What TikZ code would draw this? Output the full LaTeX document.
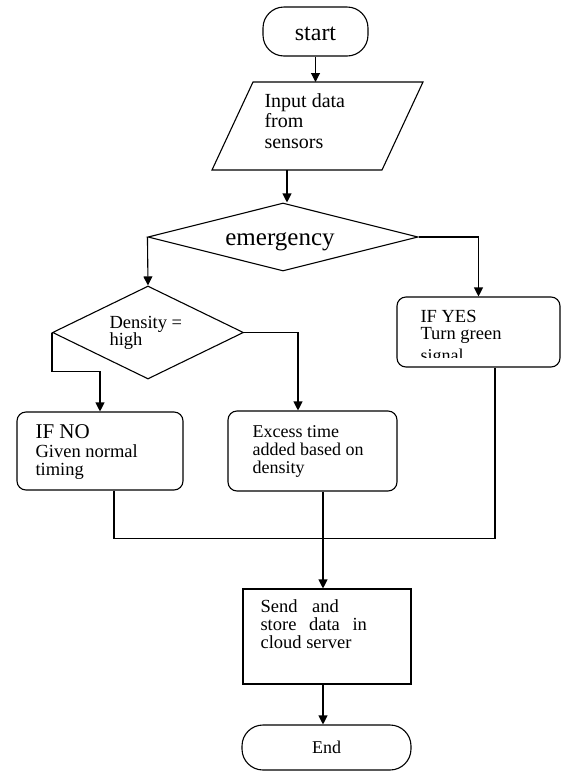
\documentclass[tikz,border=0pt]{standalone}
\usepackage{fontspec}
\setmainfont{Liberation Serif}
\usetikzlibrary{shapes.geometric,arrows.meta}
\begin{document}
\begin{tikzpicture}[x=1pt,y=-1pt, line width=1.1pt,
  arr/.style={-{Triangle[length=9pt,width=9pt]}},
  box/.style={draw, inner sep=0pt},
  rbox/.style={box, rounded corners=9pt},
  term/.style={box, rounded corners=21pt},
  txt/.style={inner sep=0pt, anchor=base west, align=left, font=\fontsize{18}{19}\selectfont},
]
\useasboundingbox (0,0) rectangle (563,772);
% shapes
\node[term, minimum width=105pt, minimum height=49pt] (start) at (315.5,31.5) {};
\coordinate (p1) at (212,170);
\coordinate (p2) at (382,170);
\coordinate (p3) at (423,82);
\coordinate (p4) at (253,82);
\draw (p1) -- (p2) -- (p3) -- (p4) -- cycle;
\coordinate (inTop) at (315.5,82);
\coordinate (inBot) at (287,170);
\node[box, diamond, minimum width=270pt, minimum height=68pt] (em) at (283,237) {};
\node[box, diamond, minimum width=191pt, minimum height=93pt] (den) at (148,332.5) {};
\node[rbox, minimum width=163pt, minimum height=70pt] (yes) at (478.5,332) {};
\node[rbox, minimum width=166pt, minimum height=78pt] (no) at (100,451) {};
\node[rbox, minimum width=169pt, minimum height=80pt] (exc) at (312.5,451) {};
\node[box, minimum width=168pt, minimum height=95pt] (send) at (327,636.5) {};
\node[term, minimum width=169pt, minimum height=45pt] (end) at (326.5,747.5) {};
% texts (base anchor = baseline of the last line)
\node[txt, anchor=base, font=\fontsize{24}{26}\selectfont] (tstart) at (315.5,40) {start};
\node[txt, font=\fontsize{20}{20.5}\selectfont] (tin) at (264,148) {Input data\\from\\sensors};
\node[txt, anchor=base, font=\fontsize{25}{26}\selectfont] (tem) at (280,245) {emergency};
\node[txt, font=\fontsize{18.5}{17}\selectfont] (tden) at (109,345) {Density =\\high};
\node[txt, font=\fontsize{18.5}{17}\selectfont] (tyes) at (420,339) {IF YES\\Turn green};
\begin{scope}
  \clip (400,344) rectangle (540,357);
  \node[txt, font=\fontsize{18}{17}\selectfont] (tsig) at (420,361) {signal};
\end{scope}
\node[txt, font=\fontsize{21}{21}\selectfont] (tno1) at (35,438) {IF NO};
\node[txt, font=\fontsize{18.5}{17.5}\selectfont] (tno2) at (35,475) {Given normal\\timing};
\node[txt, font=\fontsize{18}{18}\selectfont] (texc) at (252,473) {Excess time\\added based on\\density};
\node[txt, font=\fontsize{18.5}{18}\selectfont] (tsend) at (260,648) {Send\hspace{10pt} and\\store\hspace{8pt} data\hspace{8pt} in\\cloud server};
\node[txt, anchor=base] (tend) at (326.5,753) {End};
% connectors
\draw[arr] (start.south) -- (inTop);
\draw[arr] (inBot) -- (inBot |- em.north);
\draw[arr] (em.west) -- (den.north);
\draw[arr] (em.east) -| (yes.north);
\draw[arr] (den.west) -- ++(0,39) -| (no.north);
\draw[arr] (den.east) -| ([xshift=-14.5pt]exc.north);
\draw ([xshift=14pt]no.south) -- ++(0,48) -| ([xshift=16.5pt]yes.south);
\draw[arr] ([xshift=10.5pt]exc.south) -- ([xshift=10.5pt]exc.south |- send.north);
\draw[arr] ([xshift=-4pt]send.south) -- ([xshift=-4pt]send.south |- end.north);
\end{tikzpicture}
\end{document}
